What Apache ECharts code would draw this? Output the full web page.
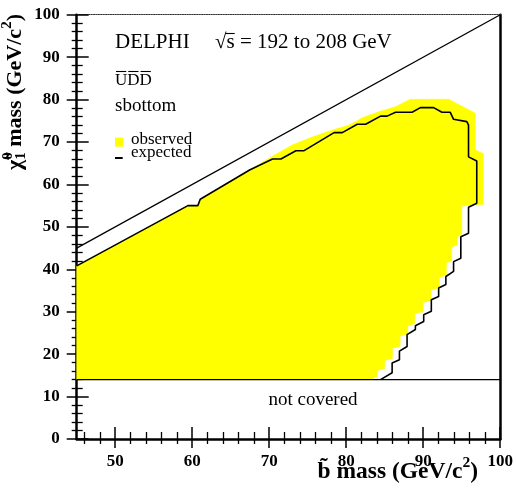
<!DOCTYPE html>
<html><head><meta charset="utf-8">
<script src="https://cdn.jsdelivr.net/npm/echarts@6/dist/echarts.min.js"></script>
<style>html,body{margin:0;padding:0;background:#fff}#c{width:516px;height:490px}</style>
</head><body><div id="c"></div>
<script>
// ---------------- data ----------------
const xMajorTicks = [50, 60, 70, 80, 90, 100];
const xMinorTicks = [46, 48, 52, 54, 56, 58, 62, 64, 66, 68, 72, 74, 76, 78, 82, 84, 86, 88, 92, 94, 96, 98];

// observed excluded region (yellow), polygon vertices [sbottom mass, neutralino mass]
const observedRegion = [
  [45, 40.8], [59.44, 55.0], [60.73, 55.0], [61.04, 56.5], [67.45, 63.4], [70.65, 66.9],
  [73.0, 69.3], [75.5, 71.1], [78.2, 72.8], [80.4, 74.0], [82.1, 75.7], [84.2, 77.1],
  [86.4, 78.3], [88.3, 80.05], [93.3, 80.05], [96.75, 76.8], [96.75, 68.1], [97.8, 67.3],
  [97.8, 55.3], [95.0, 54.9], [95.0, 48.3], [94.4, 47.6], [94.4, 45.8], [93.7, 45.2],
  [93.7, 42.0], [93.0, 41.5], [93.0, 38.7], [92.1, 38.1], [92.1, 35.6], [91.0, 35.1],
  [91.0, 32.7], [90.0, 32.2], [90.0, 30.0], [88.9, 29.6], [88.9, 27.2], [88.0, 26.7],
  [88.0, 24.8], [87.0, 24.3], [87.0, 21.9], [86.0, 21.4], [86.0, 19.0], [85.0, 18.5],
  [85.0, 16.6], [84.0, 16.1], [84.0, 14.8], [83.2, 14.0], [45, 14.0]
];

// expected exclusion contour (black line)
const expectedLimit = [
  [45, 40.8], [59.44, 55.0], [60.73, 55.0], [61.04, 56.5], [67.45, 63.4], [70.43, 66.0],
  [71.52, 66.0], [73.46, 67.95], [74.53, 67.95], [78.42, 72.2], [79.49, 72.2], [81.43, 74.17],
  [82.52, 74.17], [84.46, 76.1], [85.31, 76.1], [86.4, 77.0], [88.55, 77.0], [89.63, 78.1],
  [91.35, 78.1], [92.43, 77.0], [93.51, 77.0], [93.94, 75.35], [95.66, 74.8], [95.88, 74.0],
  [95.88, 66.5], [96.95, 65.5], [96.95, 55.55], [95.88, 54.6], [95.88, 48.5], [94.88, 47.68],
  [94.88, 42.6], [93.94, 41.8], [93.94, 39.5], [92.94, 38.3], [92.94, 36.4], [92.0, 35.6],
  [92.0, 33.6], [91.05, 32.8], [91.05, 30.1], [90.06, 29.3], [90.06, 27.7], [88.98, 26.7],
  [88.98, 25.8], [87.9, 24.6], [87.9, 21.8], [86.91, 20.7], [86.91, 18.7], [85.96, 17.9],
  [85.96, 15.6], [84.46, 14.0]
];

// kinematic limit m(chi) = m(sbottom) and lower edge of coverage
const kinematicLimit = [[45, 45], [100, 100]];
const coverageLimit = [[45, 14], [100, 14]];

// ---------------- helpers ----------------
const SERIF = '"Liberation Serif","Times New Roman",serif';
const mctx = document.createElement('canvas').getContext('2d');
function tw(text, font) { mctx.font = font; return mctx.measureText(text).width; }
function txt(x, y, text, font, align, valign) {
  return { type: 'text', x: x, y: y, silent: true,
    style: { text: text, font: font, fill: '#000', textAlign: align || 'left', align: align || 'left',
             textVerticalAlign: valign || 'middle', verticalAlign: valign || 'middle' } };
}
function hline(x1, x2, y, w) {
  return { type: 'line', silent: true, shape: { x1: x1, y1: y, x2: x2, y2: y },
           style: { stroke: '#000', lineWidth: w || 1.2 } };
}
function layout(pieces, startX) {
  const out = []; let x = startX;
  pieces.forEach(p => {
    out.push(txt(x, p.dy || 0, p.t, p.f));
    if (!p.noAdvance) x += tw(p.t, p.f);
  });
  return { els: out, width: x - startX };
}
function piecesWidth(pieces) {
  let w = 0; pieces.forEach(p => { if (!p.noAdvance) w += tw(p.t, p.f); }); return w;
}

// axis titles
const TB = 'bold 22px ' + SERIF, TS = 'bold 15px ' + SERIF;
const XB = 'bold 23.5px ' + SERIF, XS = 'bold 15.5px ' + SERIF;
const yTitlePieces = [
  { t: 'χ\u0303', f: TB }, { t: '0', f: TS, dy: -7, noAdvance: true }, { t: '1', f: TS, dy: 6 },
  { t: ' mass (GeV/c', f: TB }, { t: '2', f: TS, dy: -8 }, { t: ')', f: TB }
];
const yW = piecesWidth(yTitlePieces);
const yTitle = layout(yTitlePieces, -yW / 2);

const xTitlePieces = [
  { t: 'b\u0303', f: XB }, { t: ' mass (GeV/c', f: XB }, { t: '2', f: XS, dy: -9 }, { t: ')', f: XB }
];
const xW = piecesWidth(xTitlePieces);
const xTitle = layout(xTitlePieces, -xW);

// texts inside the frame
const F21 = '21px ' + SERIF, F19 = '19px ' + SERIF, F17 = '17px ' + SERIF;
const sqrtW = tw('√', F21), sW = tw('s', F21);
const uW = tw('U', F17), dW = tw('D', F17);

const graphics = [
  { type: 'group', x: 15, y: 92, rotation: Math.PI / 2, children: yTitle.els },
  { type: 'group', x: 478, y: 472, children: xTitle.els },
  txt(115, 42, 'DELPHI', F21),
  txt(215, 42, '√', F21),
  txt(215 + sqrtW, 42, 's = 192 to 208 GeV', F21),
  hline(215 + sqrtW - 1, 215 + sqrtW + sW, 33.5, 1.1),
  txt(115, 81, 'UDD', F17),
  hline(116, 115 + uW - 1, 71.5, 1.1),
  hline(115 + uW + 1, 115 + uW + dW - 1, 71.5, 1.1),
  hline(115 + uW + dW + 1, 115 + uW + 2 * dW - 1, 71.5, 1.1),
  txt(115, 106.5, 'sbottom', F19),
  { type: 'rect', silent: true, shape: { x: 115, y: 137.7, width: 8.3, height: 9 }, style: { fill: '#ffff00' } },
  txt(131, 140, 'observed', F17),
  hline(115, 122.7, 158, 2),
  txt(131, 153, 'expected', F17),
  txt(313, 400, 'not covered', F19, 'center')
];

// ---------------- chart ----------------
const axisFont = { fontFamily: SERIF, fontWeight: 'bold', fontSize: 17, color: '#000' };
function xAx(extra) {
  return Object.assign({ type: 'value', min: 45, max: 100, gridIndex: 0, position: 'bottom',
    splitLine: { show: false }, axisLine: { show: false, onZero: false }, axisLabel: { show: false },
    axisTick: { show: false } }, extra);
}
function yAx(extra) {
  return Object.assign({ type: 'value', min: 0, max: 100, interval: 10, gridIndex: 0, position: 'left',
    splitLine: { show: false }, axisLine: { show: false, onZero: false }, axisLabel: { show: false },
    axisTick: { show: false } }, extra);
}

const chart = echarts.init(document.getElementById('c'), null, { renderer: 'canvas' });
chart.setOption({
  animation: false,
  backgroundColor: '#fff',
  grid: { left: 76.7, right: 15.3, top: 14.7, bottom: 51, containLabel: false },
  xAxis: [
    xAx({ axisLine: { show: true, onZero: false, lineStyle: { color: '#000', width: 2.5 } },
          axisTick: { show: true, customValues: xMajorTicks, length: 9, lineStyle: { color: '#000', width: 1.5 } },
          axisLabel: Object.assign({ show: true, customValues: xMajorTicks, margin: 14 }, axisFont) }),
    xAx({ axisTick: { show: true, inside: true, customValues: xMajorTicks, length: 12, lineStyle: { color: '#000', width: 1.5 } } }),
    xAx({ axisTick: { show: true, customValues: xMinorTicks, length: 5, lineStyle: { color: '#000', width: 1.3 } } }),
    xAx({ axisTick: { show: true, inside: true, customValues: xMinorTicks, length: 7, lineStyle: { color: '#000', width: 1.3 } } }),
    xAx({ position: 'top', axisLine: { show: true, onZero: false, lineStyle: { color: '#333', width: 1.2, type: 'dotted' } } })
  ],
  yAxis: [
    yAx({ axisLine: { show: true, onZero: false, lineStyle: { color: '#000', width: 2.5 } },
          axisTick: { show: true, length: 10, lineStyle: { color: '#000', width: 1.5 } },
          minorTick: { show: true, splitNumber: 5, length: 5, lineStyle: { color: '#000', width: 1.3 } },
          axisLabel: Object.assign({ show: true, margin: 17 }, axisFont) }),
    yAx({ axisTick: { show: true, inside: true, length: 12, lineStyle: { color: '#000', width: 1.5 } },
          minorTick: { show: true, splitNumber: 5, length: 6, lineStyle: { color: '#000', width: 1.3 } } }),
    yAx({ position: 'right', axisLine: { show: true, onZero: false, lineStyle: { color: '#000', width: 2.5 } } })
  ],
  series: [
    { type: 'custom', name: 'observed', xAxisIndex: 0, yAxisIndex: 0, data: observedRegion,
      encode: { x: 0, y: 1 }, silent: true, z: 1,
      renderItem: function (params, api) {
        if (params.dataIndex !== 0) return null;
        const pts = observedRegion.map(p => api.coord(p));
        return { type: 'polygon', shape: { points: pts }, style: { fill: '#ffff00', stroke: '#ffff00', lineWidth: 0.6 } };
      } },
    { type: 'line', name: 'expected', xAxisIndex: 0, yAxisIndex: 0, data: expectedLimit, symbol: 'none',
      lineStyle: { color: '#000', width: 1.6 }, z: 3, silent: true },
    { type: 'line', name: 'kinematic', xAxisIndex: 0, yAxisIndex: 0, data: kinematicLimit, symbol: 'none',
      lineStyle: { color: '#000', width: 1.3 }, z: 3, silent: true },
    { type: 'line', name: 'coverage', xAxisIndex: 0, yAxisIndex: 0, data: coverageLimit, symbol: 'none',
      lineStyle: { color: '#000', width: 1.3 }, z: 3, silent: true }
  ],
  graphic: graphics
});
</script>
</body></html>
